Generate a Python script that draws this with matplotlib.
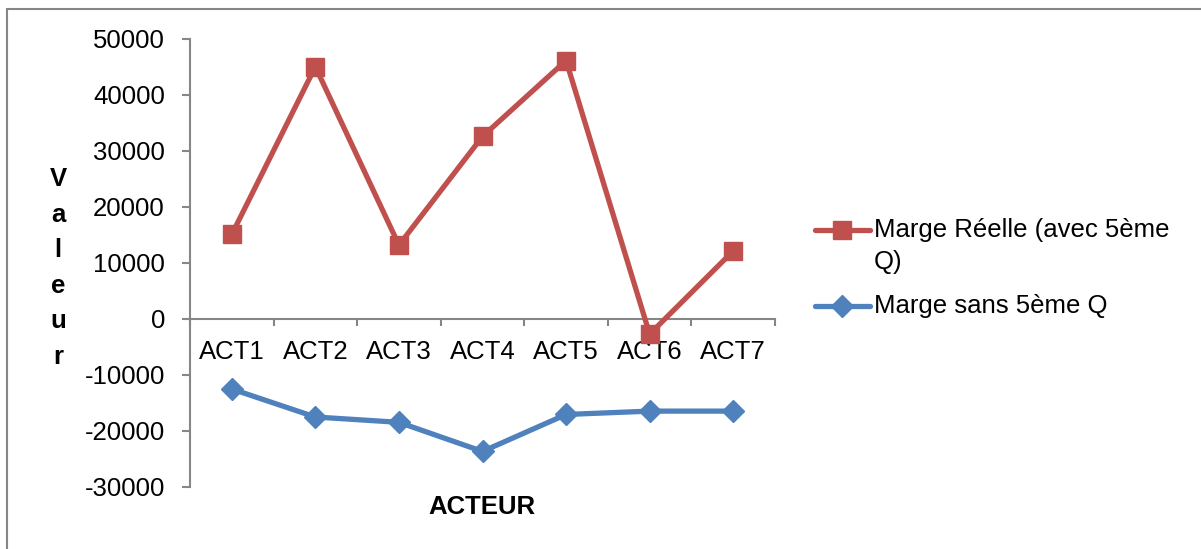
import matplotlib
matplotlib.use("Agg")
import matplotlib.pyplot as plt
from matplotlib.lines import Line2D
from matplotlib.patches import Rectangle

plt.rcParams['font.family'] = ['Liberation Sans', 'DejaVu Sans']

categories = ["ACT1", "ACT2", "ACT3", "ACT4", "ACT5", "ACT6", "ACT7"]
marge_reelle = [15100, 45050, 13200, 32600, 46150, -2700, 12150]
marge_sans_5q = [-12500, -17500, -18450, -23650, -17050, -16450, -16450]
yticks = [-30000, -20000, -10000, 0, 10000, 20000, 30000, 40000, 50000]

RED = "#C0504D"
BLUE = "#4F81BD"
GRAY = "#868686"
FS = 18.5

W, H = 1201, 549
fig = plt.figure(figsize=(W / 100, H / 100), dpi=100)


def fx(px):
    return px / W


def fy(py):
    return 1 - py / H


# chart-area border (top and left edges visible)
fig.add_artist(Rectangle((fx(7), fy(560)), fx(1200), fy(9) - fy(560),
                         transform=fig.transFigure, fill=False,
                         edgecolor=GRAY, linewidth=1.5))

ax = fig.add_axes([fx(190), fy(487), fx(775) - fx(190), fy(39) - fy(487)])
x = list(range(1, len(categories) + 1))

ax.plot(x, marge_reelle, color=RED, linewidth=3.8, marker="s",
        markersize=13, markeredgecolor=RED, zorder=3, clip_on=False)
ax.plot(x, marge_sans_5q, color=BLUE, linewidth=3.8, marker="D",
        markersize=11, markeredgecolor=BLUE, zorder=3, clip_on=False)

ax.set_xlim(0.5, len(categories) + 0.5)
ax.set_ylim(-30000, 50000)

for s in ("top", "right"):
    ax.spines[s].set_visible(False)
ax.spines["bottom"].set_position(("data", 0))
ax.spines["bottom"].set_color(GRAY)
ax.spines["bottom"].set_linewidth(1.5)
ax.spines["left"].set_color(GRAY)
ax.spines["left"].set_linewidth(1.5)

ax.set_yticks(yticks)
ax.set_yticklabels([str(v) for v in yticks], fontsize=FS)
ax.tick_params(axis="y", length=6, width=1.5, color=GRAY, pad=12)

ax.set_xticks(x)
ax.set_xticklabels(categories, fontsize=FS)
ax.set_xticks([i + 0.5 for i in range(len(categories) + 1)], minor=True)
ax.tick_params(axis="x", which="major", length=0, pad=15)
ax.tick_params(axis="x", which="minor", length=5, width=1.5, color=GRAY,
               direction="out")

# axis titles
fig.text(fx(58), fy(268), "V\na\nl\ne\nu\nr", fontsize=FS, fontweight="bold",
         ha="center", va="center", linespacing=1.6)
fig.text(fx(482), fy(507), "ACTEUR", fontsize=FS, fontweight="bold",
         ha="center", va="center")

# legend
legend_items = [
    (RED, "s", 13, 230, ["Marge Réelle (avec 5ème", "Q)"]),
    (BLUE, "D", 11, 306, ["Marge sans 5ème Q"]),
]
for color, mk, ms, py, lines in legend_items:
    fig.add_artist(Line2D([fx(815), fx(870)], [fy(py), fy(py)],
                          transform=fig.transFigure, color=color,
                          linewidth=3.8, solid_capstyle="round"))
    fig.add_artist(Line2D([fx(842.5)], [fy(py)], transform=fig.transFigure,
                          color=color, marker=mk, markersize=ms,
                          linestyle="none"))
    for k, line in enumerate(lines):
        fig.text(fx(874), fy(py + 32 * k), line, fontsize=FS,
                 ha="left", va="center")

fig.savefig("out.png", dpi=100)
